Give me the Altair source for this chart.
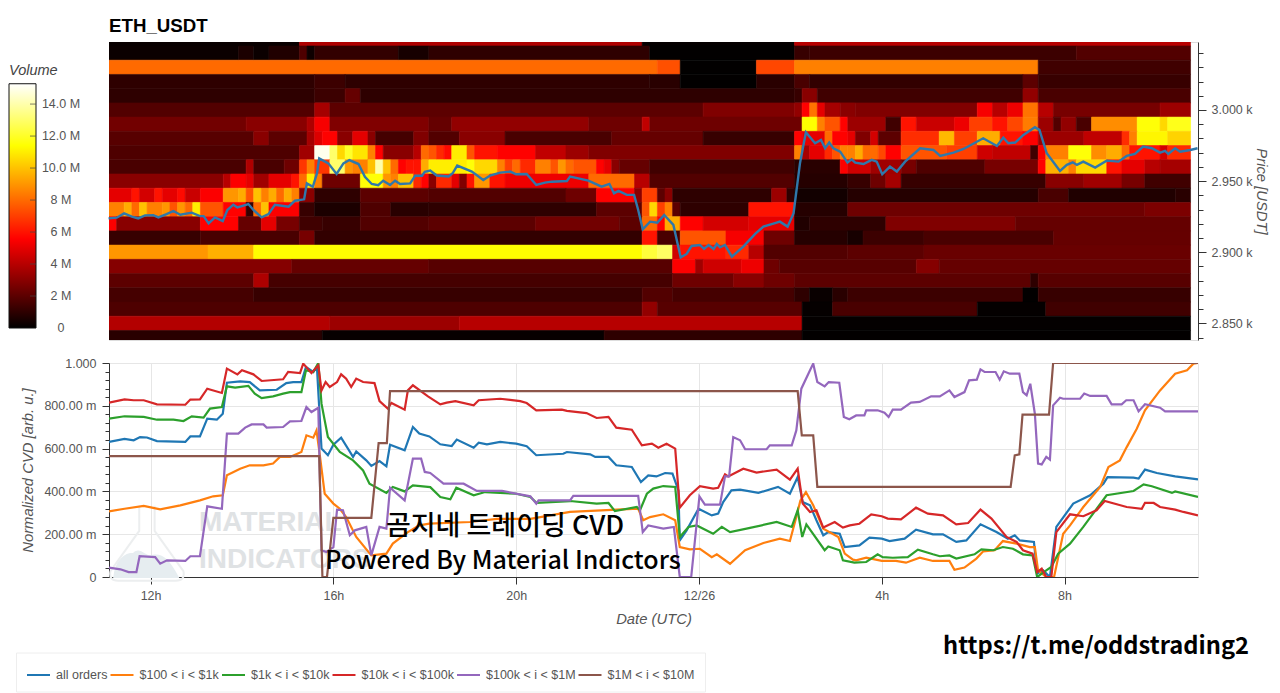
"""ETH_USDT volume heatmap with price, and normalized CVD per order size."""
import altair as alt
import pandas as pd

# time axis runs in hours since 12/25 00:00 UTC
T_START = 11.09
T_END = 34.92
CELL_HOURS = 1 / 6

volume_domain = [0, 5.57, 11.4, 15.27]
volume_colors = ["#000000", "#ff0000", "#ffff00", "#ffffff"]

# volume per price row, as (number of 10 minute cells, volume in M)
row_prices = [3050, 3040, 3030, 3020, 3010, 3000, 2990, 2980, 2970, 2960, 2950,
              2940, 2930, 2920, 2910, 2900, 2890, 2880, 2870, 2860, 2850, 2840]
row_3050 = [(25, .2), (45, 3.8), (20, .1), (52, 4.0)]
row_3040 = [(17, .25), (2, .6), (2, .25), (4, .7), (1, 1.7), (1, .3), (11, 1.1), (4, .5), (29, 1.0),
            (19, .05), (2, 1.2), (35, 1.3), (15, 1.8)]
row_3030 = [(72, 8.0), (3, 7.4), (10, .05), (5, 7.2), (32, 8.5), (20, 1.4)]
row_3020 = [(27, 1.0), (4, 1.3), (40, 1.0), (4, .9), (10, .05), (5, .9), (2, 1.6), (28, 1.1), (2, 2.0), (20, 1.2)]
row_3010 = [(27, 1.0), (4, 1.3), (2, 2.2), (57, 1.0), (1, 1.2), (2, 3.0), (27, 1.4), (2, 3.2), (20, 1.6)]
row_3000 = [(27, 1.8), (2, 3.6), (49, 2.0), (12, 2.8), (1, 3.2), (1, 5.6), (1, 8.2), (1, 5.0), (2, 3.6), (2, 3.0),
            (16, 2.8), (2, 5.4), (2, 4.0), (2, 5.2), (2, 8.2), (2, 4.0), (14, 2.6), (4, 3.4)]
row_2990 = [(18, 2.5), (8, 3.0), (1, 3.8), (2, 5.4), (13, 2.8), (3, 2.2), (18, 3.2), (7, 2.4), (1, 4.2), (20, 2.4),
            (2, 11.4), (1, 8.5), (2, 7.5), (1, 5.6), (5, 3.4), (2, 1.4), (2, 6.0), (5, 4.4), (2, 5.2), (3, 7.0),
            (2, 6.0), (2, 7.2), (2, 8.4), (2, 3.4), (1, 1.8), (2, 3.2), (2, 1.6), (6, 8.8), (3, 11.5), (1, 10.5),
            (3, 11.8)]
row_2980 = [(19, 1.9), (2, 3.0), (5, 2.0), (1, 3.6), (1, 4.8), (2, 5.6), (2, 3.0), (2, 5.0), (1, 3.0), (5, 1.5),
            (2, 2.8), (4, 1.8), (6, 3.0), (14, 1.6), (12, 2.2), (12, 1.2), (1, 5.6), (3, 5.0), (1, 8.0), (2, 5.6),
            (1, 5.0), (2, 2.8), (1, 4.6), (3, 2.0), (5, 6.6), (2, 9.8), (3, 7.0), (3, 9.5), (3, 6.0), (2, 5.5),
            (6, 3.4), (5, 4.2), (1, 6.6), (1, 8.5), (4, 11.2), (3, 10.4)]
row_2970 = [(25, 1.7), (2, 3.5), (2, 15.0), (1, 13.0), (1, 10.5), (1, 12.0), (2, 10.8), (1, 8.5), (1, 5.6), (4, 3.0),
            (1, 4.0), (1, 8.0), (1, 7.5), (1, 6.5), (1, 5.8), (2, 11.0), (1, 7.5), (3, 6.0), (5, 5.6), (4, 4.2),
            (3, 3.4), (27, 2.8), (1, 8.5), (1, 3.6), (2, 5.0), (1, 6.5), (1, 7.5), (1, 8.5), (1, 8.5), (1, 9.5),
            (2, 8.0), (1, 7.2), (2, 5.6), (6, 7.5), (4, 7.0), (2, 4.5), (5, 4.2), (1, 1.4), (1, 5.5), (3, 8.5),
            (3, 11.5), (2, 8.8), (2, 9.5), (1, 8.0), (4, 6.0), (1, 4.6), (3, 6.5)]
row_2960 = [(18, 1.6), (1, 3.8), (4, 1.6), (2, 2.4), (1, 6.8), (1, 8.5), (2, 6.8), (2, 13.0), (1, 9.0), (2, 8.5),
            (1, 10.0), (1, 14.0), (1, 10.0), (1, 8.0), (1, 5.6), (1, 6.0), (1, 6.0), (1, 9.5), (5, 11.0), (1, 11.5),
            (3, 10.5), (1, 8.5), (1, 7.0), (1, 8.0), (2, 6.5), (2, 8.5), (1, 7.5), (1, 9.0), (1, 8.0), (3, 7.5),
            (1, 5.6), (1, 5.0), (1, 3.0), (4, 2.2), (19, 1.4), (6, .9), (1, 5.5), (3, 4.5), (4, 3.5), (2, 2.6),
            (9, 1.7), (7, 2.6), (1, 5.6), (3, 9.6), (1, 8.5), (4, 10.5), (2, 6.0), (3, 5.0), (2, 4.0), (4, 3.6)]
row_2950 = [(15, 3.0), (1, 4.0), (2, 5.5), (1, 5.0), (2, 3.5), (3, 5.0), (1, 6.0), (1, 8.0), (1, 11.0), (1, 8.5),
            (5, 2.4), (3, 11.5), (1, 9.0), (1, 8.5), (2, 10.0), (1, 6.5), (1, 5.6), (1, 3.0), (2, 6.5), (1, 5.0),
            (1, 2.8), (1, 6.0), (2, 9.0), (2, 6.0), (11, 5.2), (6, 8.0), (2, 4.0), (19, 1.8), (7, .8), (3, 1.2),
            (2, 2.4), (2, 3.6), (19, 1.2), (5, 3.0), (5, 3.5), (3, 2.6), (6, 1.4)]
row_2940 = [(3, 5.0), (1, 6.0), (2, 4.6), (1, 6.0), (2, 5.0), (1, 5.8), (2, 4.4), (3, 5.5), (2, 9.0), (1, 9.5),
            (1, 7.5), (1, 10.0), (1, 8.5), (1, 9.5), (1, 8.0), (1, 9.5), (1, 8.5), (2, 3.0), (6, 1.0), (9, 2.0),
            (18, 1.8), (4, 2.4), (5, 5.6), (1, 3.0), (2, 7.0), (1, 2.0), (1, 3.0), (13, 1.0), (2, 3.4), (1, 1.0),
            (7, .4), (25, .8), (4, 1.6), (14, .7), (2, .9)]
row_2930 = [(2, 8.5), (1, 9.5), (1, 8.0), (1, 10.0), (2, 8.5), (1, 9.0), (1, 7.5), (1, 9.0), (1, 8.0), (1, 11.0),
            (3, 7.5), (3, 5.6), (1, 1.2), (1, 8.0), (1, 10.0), (4, 5.5), (2, 1.2), (6, .6), (4, 1.7), (5, .9),
            (22, 1.0), (6, 2.0), (1, 7.5), (1, 10.5), (1, 7.0), (1, 8.5), (1, 2.0), (9, 1.0), (6, 6.0), (7, .8),
            (39, 2.4), (6, 2.7)]
row_2920 = [(1, 5.5), (11, 3.0), (5, 5.6), (3, 2.2), (2, 5.0), (3, 2.6), (3, 1.4), (5, 1.2), (9, 1.8), (14, 2.0),
            (11, 2.5), (3, 2.0), (2, 8.0), (1, 5.6), (2, 9.5), (3, 5.6), (6, 4.6), (6, 5.0), (2, .7), (10, 1.0),
            (17, 2.8), (23, 2.2)]
row_2910 = [(12, 1.2), (13, 1.6), (2, 2.6), (43, 1.1), (2, 6.0), (3, 1.6), (6, 7.5), (5, 5.4), (4, 2.4), (7, .8),
            (2, .5), (8, 1.3), (17, 1.6), (18, 2.2)]
row_2900 = [(13, 9.0), (6, 9.6), (51, 11.4), (2, 12.3), (2, 12.9), (1, 4.5), (6, 6.0), (3, 6.5), (2, 4.0), (11, 1.8),
            (10, 2.0), (35, 2.3)]
row_2890 = [(24, 2.9), (18, 2.2), (32, 1.9), (3, 5.5), (1, 3.5), (5, 4.5), (3, 5.2), (2, 2.4), (18, 1.9), (3, 2.9),
            (33, 2.2)]
row_2880 = [(19, 2.0), (2, 3.8), (53, 1.5), (8, 2.4), (4, 3.0), (4, 2.4), (31, 2.0), (1, 1.0), (20, 1.9)]
row_2870 = [(19, 1.5), (51, 1.2), (4, 1.8), (16, 1.5), (2, 1.0), (3, .2), (2, .9), (23, 1.3), (2, .05), (20, 1.2)]
row_2860 = [(70, 1.7), (2, 3.2), (19, 1.9), (4, .1), (19, 1.6), (9, .08), (19, 1.4)]
row_2850 = [(29, 3.9), (17, 3.4), (45, 4.0), (51, .08)]
row_2840 = [(28, .9), (37, .15), (26, 1.0), (51, .05)]
heat_rows = [row_3050, row_3040, row_3030, row_3020, row_3010, row_3000, row_2990, row_2980, row_2970, row_2960,
             row_2950, row_2940, row_2930, row_2920, row_2910, row_2900, row_2890, row_2880, row_2870, row_2860,
             row_2850, row_2840]

# price line, (hour, USDT)
price = [(11.08, 2923.8), (11.26, 2924.3), (11.42, 2927.3), (11.59, 2925), (11.73, 2923.8), (11.88, 2925.9),
         (12.06, 2926.1), (12.17, 2924.5), (12.35, 2926.8), (12.5, 2929), (12.65, 2926.4), (12.9, 2927.8),
         (13.08, 2925.4), (13.16, 2925.4), (13.27, 2920.3), (13.41, 2924.5), (13.58, 2921.9), (13.68, 2929.7),
         (13.81, 2933.4), (13.9, 2931.5), (14.14, 2933.9), (14.25, 2929.7), (14.43, 2924.5), (14.58, 2926.8),
         (14.72, 2933.4), (15.02, 2932), (15.16, 2936.2), (15.36, 2937.2), (15.42, 2948.4), (15.55, 2946),
         (15.64, 2955.4), (15.69, 2966), (15.89, 2962.5), (16.07, 2955), (16.22, 2962.5), (16.35, 2964.8),
         (16.55, 2962), (16.69, 2953), (16.84, 2948), (16.98, 2947.2), (17.09, 2950.3), (17.24, 2947.2),
         (17.35, 2950.3), (17.46, 2948), (17.68, 2948.4), (17.79, 2953.8), (17.94, 2953.8), (18.0, 2956.6),
         (18.12, 2957.4), (18.26, 2953.9), (18.52, 2953.2), (18.61, 2955.5), (18.71, 2960.9), (19.03, 2956.7),
         (19.28, 2950.8), (19.43, 2953.9), (19.65, 2956), (19.87, 2956.7), (20.0, 2954.8), (20.23, 2955),
         (20.44, 2947.3), (20.63, 2948.9), (20.78, 2949.6), (21.11, 2950.1), (21.18, 2953.2), (21.58, 2950.3),
         (21.87, 2946.1), (22.04, 2948), (22.14, 2941.4), (22.24, 2943.1), (22.42, 2940.3), (22.58, 2940.3),
         (22.67, 2929.7), (22.77, 2916.1), (22.93, 2921.5), (23.09, 2920.8), (23.24, 2926.2), (23.44, 2919.2),
         (23.6, 2896.4), (23.73, 2898.8), (23.84, 2904.4), (24.02, 2905.1), (24.11, 2902.3), (24.21, 2905.1),
         (24.32, 2902.3), (24.39, 2905.8), (24.46, 2903.5), (24.57, 2905.1), (24.72, 2896.9), (24.97, 2903.9),
         (25.23, 2912.9), (25.41, 2918), (25.7, 2920.8), (25.77, 2921.5), (25.94, 2918), (26.07, 2927.4),
         (26.21, 2962.5), (26.34, 2984.3), (26.54, 2976.6), (26.67, 2978.9), (26.76, 2973.1), (26.85, 2977.1),
         (26.94, 2973.1), (27.09, 2970.7), (27.25, 2963), (27.34, 2965.3), (27.42, 2963), (27.6, 2962),
         (27.78, 2964.9), (27.89, 2963.7), (28.01, 2954.8), (28.18, 2960.2), (28.33, 2956.7), (28.51, 2963.7),
         (28.84, 2973.1), (29.13, 2971.9), (29.28, 2967.7), (29.57, 2970), (29.79, 2972.6), (30.22, 2980.1),
         (30.52, 2974.7), (30.66, 2980.6), (30.77, 2976.6), (30.92, 2977.1), (31.1, 2982.5), (31.35, 2987.9),
         (31.45, 2986), (31.61, 2969.6), (31.9, 2957.2), (32.05, 2961.4), (32.18, 2963.2), (32.27, 2961.4),
         (32.41, 2963.7), (32.67, 2959.5), (32.92, 2964.4), (33.18, 2963.7), (33.36, 2967.7), (33.54, 2969.1),
         (33.72, 2974.3), (33.91, 2973.1), (34.09, 2970), (34.2, 2971.2), (34.27, 2969.1), (34.42, 2973.1),
         (34.53, 2970.7), (34.75, 2971.9), (34.91, 2973.1)]

# CVD series, (hour, milli units)
all_orders = [(11.09, 631), (11.43, 645), (11.63, 639), (11.77, 654), (11.92, 652), (12.14, 635), (12.76, 631),
              (12.87, 657), (13.08, 657), (13.24, 740), (13.45, 735), (13.58, 763), (13.67, 908), (13.96, 914),
              (14.17, 911), (14.39, 872), (14.76, 875), (14.97, 906), (15.12, 911), (15.3, 911), (15.4, 981),
              (15.56, 958), (15.64, 981), (15.74, 600), (15.88, 569), (16.0, 618), (16.17, 651), (16.43, 561),
              (16.5, 587), (16.72, 545), (16.83, 519), (17.01, 542), (17.16, 517), (17.24, 618), (17.56, 592),
              (17.74, 701), (17.88, 670), (18.1, 657), (18.34, 620), (18.59, 612), (18.7, 642), (19.07, 604),
              (19.18, 628), (19.36, 620), (19.65, 631), (20, 623), (20.23, 611), (20.44, 569), (21.03, 576),
              (21.11, 584), (21.62, 573), (21.73, 561), (22.02, 561), (22.19, 522), (22.53, 514), (22.73, 444),
              (22.89, 475), (23.07, 470), (23.26, 486), (23.42, 483), (23.55, 405), (23.58, 171), (23.73, 218),
              (23.99, 319), (24.28, 288), (24.42, 296), (24.53, 350), (24.71, 405), (24.9, 408), (25.3, 393),
              (25.73, 421), (25.99, 389), (26.16, 467), (26.27, 350), (26.43, 335), (26.57, 265), (26.72, 195),
              (26.83, 210), (27.08, 202), (27.19, 140), (27.51, 148), (27.73, 184), (28, 179), (28.17, 168),
              (28.5, 179), (28.75, 221), (29.12, 199), (29.34, 199), (29.63, 164), (29.85, 171), (30.16, 246),
              (30.51, 210), (30.76, 179), (30.91, 195), (31.02, 171), (31.33, 164), (31.4, 16), (31.53, 31),
              (31.68, 0), (31.82, 234), (32.19, 343), (32.56, 382), (32.85, 436), (32.94, 467), (33.51, 464),
              (33.62, 460), (33.76, 502), (34.02, 486), (34.42, 470), (34.92, 456)]
orders_100_1k = [(11.09, 307), (11.43, 319), (11.85, 332), (12.21, 316), (12.65, 335), (13.08, 358), (13.37, 377),
                 (13.58, 382), (13.67, 475), (13.96, 506), (14.17, 522), (14.47, 522), (14.68, 530), (14.83, 561),
                 (15.05, 561), (15.3, 584), (15.41, 662), (15.56, 651), (15.63, 685), (15.69, 592), (15.81, 389),
                 (16.0, 343), (16.14, 319), (16.28, 280), (16.5, 187), (16.83, 101), (17.16, 109), (17.3, 156),
                 (17.63, 210), (17.88, 241), (18.1, 249), (18.99, 257), (19.58, 272), (20.31, 272), (21.18, 304),
                 (22.2, 315), (22.67, 319), (22.78, 265), (22.93, 280), (23.22, 293), (23.48, 265), (23.58, 140),
                 (23.8, 129), (24.02, 132), (24.28, 93), (24.39, 106), (24.68, 62), (25.01, 125), (25.41, 159),
                 (25.77, 179), (25.99, 168), (26.13, 280), (26.22, 358), (26.34, 397), (26.5, 335), (26.72, 226),
                 (27.05, 187), (27.19, 109), (27.37, 81), (27.44, 78), (27.66, 90), (28, 75), (28.31, 75),
                 (28.53, 67), (28.83, 90), (29.12, 75), (29.48, 75), (29.59, 34), (29.81, 44), (30.07, 86),
                 (30.22, 120), (30.47, 125), (30.65, 168), (30.95, 156), (31.24, 140), (31.35, 140), (31.42, 31),
                 (31.6, 0), (31.77, 0), (31.97, 202), (32.12, 241), (32.41, 327), (32.78, 421), (32.96, 514),
                 (33.21, 545), (33.36, 607), (33.58, 693), (33.76, 779), (34.09, 872), (34.42, 950), (34.68, 966),
                 (34.82, 997), (34.92, 1000)]
orders_1k_10k = [(11.09, 740), (11.43, 751), (11.85, 748), (12.14, 735), (12.5, 735), (12.72, 729), (12.9, 751),
                 (13.16, 745), (13.3, 787), (13.56, 794), (13.67, 891), (13.85, 885), (14.14, 893), (14.28, 857),
                 (14.43, 836), (14.68, 844), (14.9, 857), (15.05, 864), (15.3, 864), (15.4, 966), (15.56, 958),
                 (15.67, 1000), (15.74, 810), (15.88, 654), (16.14, 584), (16.43, 545), (16.65, 498), (16.79, 436),
                 (17.16, 393), (17.3, 421), (17.56, 400), (17.74, 428), (18.12, 420), (18.34, 374), (18.56, 363),
                 (18.69, 417), (19.07, 382), (19.32, 397), (20, 389), (20.31, 374), (20.45, 346), (21.18, 355),
                 (21.76, 343), (22.02, 346), (22.16, 308), (22.64, 327), (22.71, 312), (22.86, 389), (23, 413),
                 (23.22, 425), (23.48, 421), (23.58, 187), (23.77, 234), (23.95, 241), (24.31, 202), (24.5, 234),
                 (24.68, 210), (25.04, 226), (25.7, 257), (26.03, 234), (26.16, 312), (26.26, 187), (26.35, 246),
                 (26.75, 125), (26.83, 143), (27.08, 125), (27.15, 78), (27.4, 67), (27.66, 70), (27.91, 106),
                 (28.02, 93), (28.24, 90), (28.57, 93), (28.79, 128), (29.12, 106), (29.27, 97), (29.48, 101),
                 (29.63, 86), (30.03, 106), (30.18, 129), (30.44, 125), (30.65, 140), (30.87, 132), (31.09, 106),
                 (31.3, 101), (31.4, 0), (31.6, 31), (31.71, 47), (31.86, 109), (32.12, 156), (32.41, 234),
                 (32.92, 382), (33.51, 402), (33.73, 433), (33.91, 424), (34.35, 393), (34.42, 400), (34.92, 374)]
orders_10k_100k = [(11.09, 815), (11.43, 830), (11.63, 826), (11.85, 826), (12.14, 807), (12.76, 805), (12.87, 829),
                   (13.08, 830), (13.24, 880), (13.56, 860), (13.67, 974), (13.9, 947), (14, 966), (14.25, 947),
                   (14.43, 916), (14.9, 924), (15.01, 958), (15.27, 953), (15.34, 997), (15.52, 953), (15.67, 989),
                   (15.74, 872), (15.83, 911), (15.92, 888), (16.08, 911), (16.17, 947), (16.28, 927), (16.39, 888),
                   (16.5, 927), (16.65, 911), (16.9, 906), (17.01, 822), (17.19, 787), (17.27, 813), (17.56, 782),
                   (17.63, 872), (17.74, 896), (18.07, 844), (18.34, 807), (18.48, 815), (18.67, 822), (19.07, 802),
                   (19.18, 826), (19.65, 833), (20.09, 822), (20.23, 813), (20.44, 779), (21, 782), (21.11, 776),
                   (21.54, 766), (21.76, 743), (22.02, 748), (22.19, 698), (22.53, 688), (22.75, 615), (22.97, 623),
                   (23.11, 604), (23.29, 623), (23.48, 600), (23.58, 324), (23.8, 382), (24.02, 424), (24.31, 413),
                   (24.42, 417), (24.57, 480), (24.64, 470), (24.97, 506), (25.26, 488), (25.7, 502), (25.99, 455),
                   (26.16, 506), (26.27, 343), (26.43, 304), (26.57, 312), (26.72, 231), (26.97, 257), (27.15, 231),
                   (27.3, 241), (27.51, 249), (27.77, 293), (28, 284), (28.13, 273), (28.42, 269), (28.75, 324),
                   (29.01, 296), (29.34, 288), (29.63, 246), (29.89, 252), (30.16, 315), (30.4, 273), (30.73, 187),
                   (30.95, 164), (31.09, 125), (31.3, 109), (31.4, 23), (31.5, 39), (31.6, 0), (31.71, 0),
                   (31.82, 210), (32.12, 293), (32.41, 284), (32.7, 312), (32.88, 355), (33.36, 327), (33.69, 319),
                   (33.76, 347), (33.95, 346), (34.09, 327), (34.42, 315), (34.6, 304), (34.92, 288)]
orders_100k_1m = [(11.09, 44), (11.34, 36), (11.52, 23), (11.69, 23), (11.76, 97), (12.1, 93), (12.21, 62),
                  (12.36, 78), (12.76, 75), (12.87, 97), (13.08, 97), (13.24, 330), (13.56, 319), (13.67, 670),
                  (13.92, 670), (14.07, 698), (14.21, 713), (14.47, 713), (14.54, 698), (14.9, 701), (15.05, 727),
                  (15.3, 729), (15.41, 794), (15.52, 771), (15.67, 791), (15.74, 125), (15.85, 117), (16, 140),
                  (16.08, 315), (16.21, 312), (16.36, 195), (16.47, 218), (16.72, 234), (16.83, 101), (17.01, 234),
                  (17.16, 226), (17.24, 417), (17.56, 358), (17.74, 553), (17.92, 553), (18, 491), (18.12, 486),
                  (18.41, 436), (18.85, 436), (19.14, 402), (19.69, 402), (20.31, 377), (20.44, 343), (20.49, 358),
                  (21.18, 358), (21.25, 379), (22.67, 379), (22.77, 210), (22.89, 241), (23.22, 226), (23.45, 234),
                  (23.58, 0), (23.83, 0), (24.01, 377), (24.13, 338), (24.46, 338), (24.57, 470), (24.66, 470),
                  (24.75, 654), (24.9, 639), (25.01, 597), (25.48, 597), (25.55, 615), (26.03, 615), (26.13, 685),
                  (26.24, 880), (26.43, 966), (26.5, 997), (26.59, 911), (26.75, 891), (26.84, 911), (27.07, 908),
                  (27.17, 748), (27.29, 737), (27.44, 755), (27.62, 755), (27.66, 779), (27.91, 779), (28.06, 768),
                  (28.15, 748), (28.24, 782), (28.42, 782), (28.64, 815), (28.83, 818), (29.08, 844), (29.27, 844),
                  (29.48, 872), (29.59, 841), (29.81, 864), (29.91, 919), (30.08, 922), (30.16, 970), (30.25, 958),
                  (30.49, 958), (30.58, 922), (30.67, 961), (30.8, 950), (31.01, 950), (31.09, 864), (31.17, 849),
                  (31.25, 903), (31.35, 763), (31.42, 530), (31.5, 526), (31.6, 561), (31.68, 548), (31.75, 802),
                  (31.9, 838), (31.97, 833), (32.34, 833), (32.43, 857), (32.56, 846), (32.92, 846), (33.03, 807),
                  (33.25, 807), (33.35, 826), (33.51, 826), (33.62, 774), (33.76, 807), (34.09, 791), (34.2, 774),
                  (34.92, 774)]
orders_1m_10m = [(11.09, 565), (15.69, 565), (15.76, 0), (15.86, 0), (16, 276), (16.83, 276), (16.99, 626),
                 (17.17, 626), (17.24, 869), (26.16, 869), (26.25, 662), (26.5, 662), (26.59, 421), (30.82, 421),
                 (30.91, 568), (31.01, 573), (31.08, 759), (31.66, 759), (31.75, 1000), (34.92, 1000)]

series_names = ["all orders", "$100 < i < $1k", "$1k < i < $10k", "$10k < i < $100k",
                "$100k < i < $1M", "$1M < i < $10M"]
series_values = [all_orders, orders_100_1k, orders_1k_10k, orders_10k_100k, orders_100k_1m, orders_1m_10m]
series_colors = ["#1f77b4", "#ff7f0e", "#2ca02c", "#d62728", "#9467bd", "#8c564b"]

price_ticks = list(range(2840, 3050, 10))
cvd_ticks = list(range(0, 1040, 40))
hour_ticks = [12, 16, 20, 24, 28, 32]
bar_ticks = [0, 2, 4, 6, 8, 10, 12, 14]
bar_labels = ["0", "2 M", "4 M", "6 M", "8 M", "10.0 M", "12.0 M", "14.0 M"]

FONT = "Liberation Sans"
TEXT = "#555555"
DARK = "#333333"
GRID = "#e6e6e6"

heat_records = []
for row_price, runs in zip(row_prices, heat_rows):
    col = 0
    for n, v in runs:
        heat_records.append({"t0": T_START + col * CELL_HOURS, "t1": T_START + (col + n) * CELL_HOURS,
                             "p0": row_price - 5, "p1": row_price + 5, "v": v})
        col += n
heat_df = pd.DataFrame(heat_records)
price_df = pd.DataFrame(price, columns=["t", "p"])
cvd_df = pd.DataFrame(
    [{"t": t, "v": v, "s": name} for name, pts in zip(series_names, series_values) for t, v in pts]
)
one_row = pd.DataFrame({"a": [0]})

x_scale = alt.Scale(domain=[T_START, T_END], nice=False, zero=False)
price_scale = alt.Scale(domain=[2838.3, 3047.8], nice=False, zero=False)
cvd_scale = alt.Scale(domain=[0, 1000], nice=False)
volume_scale = alt.Scale(domain=volume_domain, range=volume_colors, interpolate="rgb")

# layers of one chart share an axis, so each layer gets the same definition
price_axis = alt.Axis(
    orient="right",
    title="Price [USDT]",
    titleAngle=90,
    titleFontStyle="italic",
    titleFontWeight="normal",
    titleFontSize=14.8,
    titleColor=TEXT,
    titlePadding=1,
    values=price_ticks,
    labelExpr="datum.value % 50 == 0 ? format(datum.value / 1000, '.3f') + ' k' : ''",
    labelFontSize=12.5,
    labelColor=TEXT,
    labelPadding=5,
    grid=False,
    domainColor=DARK,
    tickColor=DARK,
    tickSize={"condition": {"test": "datum.value % 50 == 0", "value": 8}, "value": 5},
)
date_axis = alt.Axis(
    title="Date (UTC)",
    titleFontStyle="italic",
    titleFontWeight="normal",
    titleFontSize=14.8,
    titleColor=TEXT,
    titlePadding=10,
    values=hour_ticks,
    labelExpr="datum.value == 24 ? '12/26' : (datum.value % 24) + 'h'",
    labelFontSize=12.5,
    labelColor=TEXT,
    labelPadding=5,
    labelFlush=False,
    gridColor=GRID,
    domainColor=DARK,
    tickColor=DARK,
    tickSize=7,
)
cvd_axis = alt.Axis(
    title="Normalized CVD [arb. u.]",
    titleFontStyle="italic",
    titleFontWeight="normal",
    titleFontSize=14.8,
    titleColor=TEXT,
    titlePadding=8,
    values=cvd_ticks,
    labelExpr="datum.value == 0 ? '0' : datum.value == 1000 ? '1.000' : "
              "datum.value % 200 == 0 ? format(datum.value, '.2f') + ' m' : ''",
    labelFontSize=12.5,
    labelColor=TEXT,
    labelPadding=6,
    gridColor=GRID,
    gridOpacity={"condition": {"test": "datum.value % 200 == 0", "value": 1}, "value": 0},
    domainColor=DARK,
    tickColor=DARK,
    tickSize={"condition": {"test": "datum.value % 200 == 0", "value": 7}, "value": 4},
)


def note(text, x, y, **style):
    return alt.Chart(one_row).mark_text(text=text, clip=False, **style).encode(x=alt.value(x), y=alt.value(y))


# heatmap and price
cells = alt.Chart(heat_df).mark_rect(clip=True, strokeWidth=0.6).encode(
    x=alt.X("t0:Q", scale=x_scale, axis=None),
    x2="t1",
    y=alt.Y("p0:Q", scale=price_scale, axis=price_axis),
    y2="p1",
    color=alt.Color("v:Q", scale=volume_scale, legend=None),
    stroke=alt.Stroke("v:Q", scale=volume_scale, legend=None),
)
price_line = alt.Chart(price_df).mark_line(color="#2f78ab", strokeWidth=2.4, clip=False).encode(
    x=alt.X("t:Q", scale=x_scale, axis=None),
    y=alt.Y("p:Q", scale=price_scale, axis=price_axis),
)
heat_title = note("ETH_USDT", 0, -16, font=FONT, fontSize=18.7, fontWeight="bold", color="#000000", align="left")
heat = alt.layer(cells, price_line, heat_title).properties(
    width=1089, height=298, view=alt.ViewBackground(stroke="#dddddd")
)

# colour bar
bar_scale = alt.Scale(domain=[-0.75, 17.88], nice=False, zero=False)
bar_rect = alt.Chart(pd.DataFrame({"low": [0], "high": [15.27]})).mark_rect(
    fill=alt.LinearGradient(
        gradient="linear",
        x1=0, x2=0, y1=1, y2=0,
        stops=[
            alt.GradientStop(offset=domain / 15.27, color=color)
            for domain, color in zip(volume_domain, volume_colors)
        ],
    ),
    stroke="#111111",
    strokeWidth=1,
).encode(y=alt.Y("low:Q", scale=bar_scale, axis=None), y2="high")
bar_df = pd.DataFrame({"v": bar_ticks, "label": bar_labels})
bar_marks = alt.Chart(bar_df[bar_df["v"] > 0]).mark_tick(color="#444444", size=6, thickness=1).encode(
    x=alt.value(24), y=alt.Y("v:Q", scale=bar_scale, axis=None)
)
bar_text = alt.Chart(bar_df).mark_text(font=FONT, fontSize=12.5, color=TEXT).encode(
    x=alt.value(52), y=alt.Y("v:Q", scale=bar_scale, axis=None), text="label:N"
)
bar_title = note("Volume", 0, 29, font=FONT, fontSize=14.5, fontStyle="italic", color="#444444", align="left")
colorbar = alt.layer(bar_rect, bar_marks, bar_text, bar_title).properties(
    width=27, height=298, view=alt.ViewBackground(stroke="transparent")
)

# watermark
flask_df = pd.DataFrame({"t": [11.92], "v": [162]})
flask = alt.Chart(flask_df).mark_point(
    shape="M-0.2,-0.95L-0.2,-0.3L-0.95,0.75Q-1,1 -0.75,1L0.75,1Q1,1 0.95,0.75L0.2,-0.3L0.2,-0.95",
    size=5900, filled=False, stroke="#eceeef", strokeWidth=2, opacity=1,
).encode(x=alt.X("t:Q", scale=x_scale, axis=date_axis), y=alt.Y("v:Q", scale=cvd_scale, axis=cvd_axis))
cloud = alt.Chart(flask_df).mark_point(
    shape="M-0.85,0.9C-0.8,0.45 -0.55,0.3 -0.35,0.3C-0.2,0.1 0,0.45 0.15,0.35C0.45,0.3 0.6,0.55 0.8,0.9Z",
    size=5900, filled=True, fill="#e6edf0", stroke="#e6edf0", opacity=1,
).encode(x=alt.X("t:Q", scale=x_scale, axis=date_axis), y=alt.Y("v:Q", scale=cvd_scale, axis=cvd_axis))
mark_1 = note("MATERIAL", 90, 160, font=FONT, fontSize=28, fontWeight="bold", color="#dfe2e4", align="left")
mark_2 = note("INDICATORS", 90, 197, font=FONT, fontSize=28, fontWeight="bold", color="#dfe2e4", align="left")

# CVD lines
cvd_lines = alt.Chart(cvd_df).mark_line(strokeWidth=2.2, clip=True).encode(
    x=alt.X("t:Q", scale=x_scale, axis=date_axis),
    y=alt.Y("v:Q", scale=cvd_scale, axis=cvd_axis),
    color=alt.Color(
        "s:N",
        sort=series_names,
        scale=alt.Scale(domain=series_names, range=series_colors),
        legend=alt.Legend(
            orient="none",
            legendX=-93,
            legendY=289.5,
            direction="horizontal",
            columns=6,
            title=None,
            symbolType="stroke",
            symbolSize=529,
            symbolStrokeWidth=2,
            labelFont=FONT,
            labelFontSize=12.5,
            labelColor=TEXT,
            labelOffset=5,
            columnPadding=-1.5,
            padding=10,
            strokeColor="#eeeeee",
        ),
    ),
)

text_1 = note("곰지네 트레이딩 CVD", 396, 164, font="Noto Sans CJK KR", fontSize=27, fontWeight=500, color="#000000")
text_2 = note("Powered By Material Indictors", 394, 198, font="Noto Sans CJK KR", fontSize=25, fontWeight=500,
              color="#000000")
text_3 = note("https://t.me/oddstrading2", 834, 284, font="Noto Sans CJK KR", fontSize=23.7, fontWeight=700,
              color="#000000", align="left")

cvd = alt.layer(flask, cloud, mark_1, mark_2, cvd_lines, text_1, text_2, text_3).properties(
    width=1089, height=214, view=alt.ViewBackground(stroke=GRID)
)

blank = alt.Chart(one_row).mark_text().encode(text=alt.value("")).properties(
    width=27, height=214, view=alt.ViewBackground(stroke="transparent")
)

chart = alt.concat(
    colorbar, heat, blank, cvd,
    columns=2,
    bounds="flush",
    spacing={"row": 23, "column": 73},
).properties(
    padding={"top": 8, "left": 0, "right": 0, "bottom": 0},
).configure_axis(
    labelFont=FONT,
    titleFont=FONT,
)

chart.save("out.html", embed_options={"renderer": "svg", "actions": False})
